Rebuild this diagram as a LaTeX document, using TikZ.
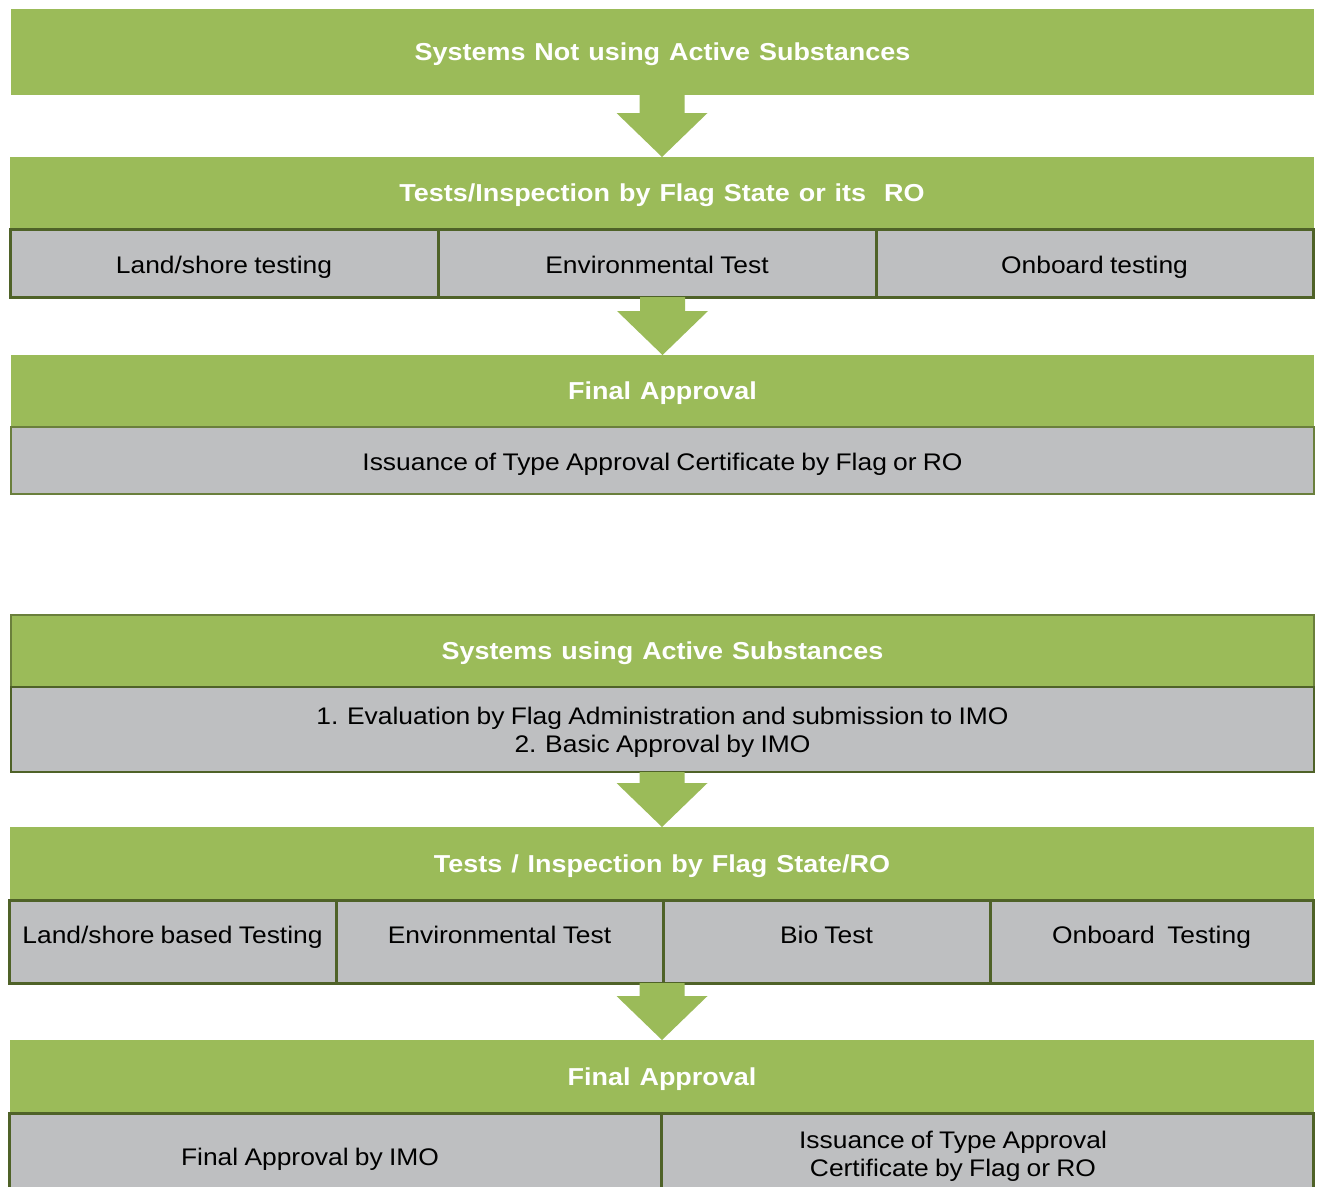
\documentclass[tikz,border=0pt]{standalone}
\usepackage{fontspec}
\setmainfont[FakeStretch=1.1,WordSpace=0.85]{Liberation Sans}
\newfontfamily\hdrfont[FakeStretch=1.1,WordSpace=1.2]{Liberation Sans}
\usetikzlibrary{calc}
\definecolor{hdr}{HTML}{9BBB59}
\definecolor{cellgray}{HTML}{BEBFC1}
\definecolor{edge}{HTML}{4F6228}
\definecolor{edgelight}{HTML}{6A7F3C}
\tikzset{
  base/.style={anchor=north west, inner sep=0pt, outer sep=0pt},
  hdrbox/.style={base, fill=hdr, text=white, text height=20pt, text depth=3pt, font=\hdrfont\fontsize{24.5}{28}\selectfont\bfseries},
  cellbox/.style={base, fill=cellgray, draw=edge, line width=3pt, text=black, text height=21pt, text depth=1pt, font=\fontsize{24}{28}\selectfont},
  celltext/.style={inner sep=0pt, text=black, font=\fontsize{24}{28}\selectfont, align=center},
  onetext/.style={inner sep=0pt, text=black, text height=17pt, text depth=5pt, font=\fontsize{24}{28}\selectfont},
}
\newcommand\bigarrow[2]{%
  \fill[hdr] ($(#2.north |- #1.south)+(-22.5,0)$) -- ($(#2.north |- #1.south)+(22.5,0)$) --
    ($(#2.north)+(22.5,-44)$) -- ($(#2.north)+(45.5,-44)$) -- (#2.north) --
    ($(#2.north)+(-45.5,-44)$) -- ($(#2.north)+(-22.5,-44)$) -- cycle;}
\begin{document}
\begin{tikzpicture}[x=1pt,y=-1pt]
\useasboundingbox[fill=white] (0,0) rectangle (1319,1186);

% ---------- Section 1 ----------
\node[hdrbox, minimum width=1303pt, minimum height=86pt] (h1) at (11,9) {Systems Not using Active Substances};
\node[hdrbox, minimum width=1304pt, minimum height=72pt] (h2) at (10,157) {Tests/Inspection by Flag State or its\ \ RO};
\node[cellbox, minimum width=428pt, minimum height=68pt] (c11) at (10,229) {Land/shore testing};
\node[cellbox, minimum width=438pt, minimum height=68pt] (c12) at (438,229) {Environmental Test};
\node[cellbox, minimum width=437pt, minimum height=68pt] (c13) at (876,229) {Onboard testing};
\node[hdrbox, minimum width=1303pt, minimum height=72pt] (h3) at (11,355) {Final Approval};
\node[cellbox, draw=edgelight, line width=2pt, minimum width=1303pt, minimum height=67pt] (c14) at (11,427) {Issuance of Type Approval Certificate by Flag or RO};

\bigarrow{h1}{h2}
\bigarrow{c12}{h3}

% ---------- Section 2 ----------
\node[hdrbox, draw=edgelight, line width=2pt, minimum width=1303pt, minimum height=72pt] (h4) at (11,615) {Systems using Active Substances};
\node[cellbox, line width=2.5pt, minimum width=1303pt, minimum height=85pt] (c21) at (11,687) {};
\node[celltext] (t21) at ($(c21.center)+(0,3)$) {1. Evaluation by Flag Administration and submission to IMO\\2. Basic Approval by IMO};
\node[hdrbox, minimum width=1304pt, minimum height=73pt] (h5) at (10,827) {Tests / Inspection by Flag State/RO};
\node[cellbox, minimum width=327pt, minimum height=83pt] (c31) at (9,900) {};
\node[cellbox, minimum width=327pt, minimum height=83pt] (c32) at (336,900) {};
\node[cellbox, minimum width=327pt, minimum height=83pt] (c33) at (663,900) {};
\node[cellbox, minimum width=323pt, minimum height=83pt] (c34) at (990,900) {};
\node[onetext] (t31) at ($(c31.center)+(0,-4)$) {Land/shore based Testing};
\node[onetext] (t32) at ($(c32.center)+(0,-4)$) {Environmental Test};
\node[onetext] (t33) at ($(c33.center)+(0,-4)$) {Bio Test};
\node[onetext] (t34) at ($(c34.center)+(0,-4)$) {Onboard\ \ Testing};
\node[hdrbox, minimum width=1304pt, minimum height=73pt] (h6) at (10,1040) {Final Approval};
\node[cellbox, minimum width=652pt, minimum height=90pt] (c41) at (9,1113) {};
\node[cellbox, minimum width=652pt, minimum height=90pt] (c42) at (661,1113) {};
\node[onetext] (t41) at (310,1159) {Final Approval by IMO};
\node[celltext] (t42) at (953,1156) {Issuance of Type Approval\\Certificate by Flag or RO};

\bigarrow{c21}{h5}
\bigarrow{c33}{h6}
\end{tikzpicture}
\end{document}
